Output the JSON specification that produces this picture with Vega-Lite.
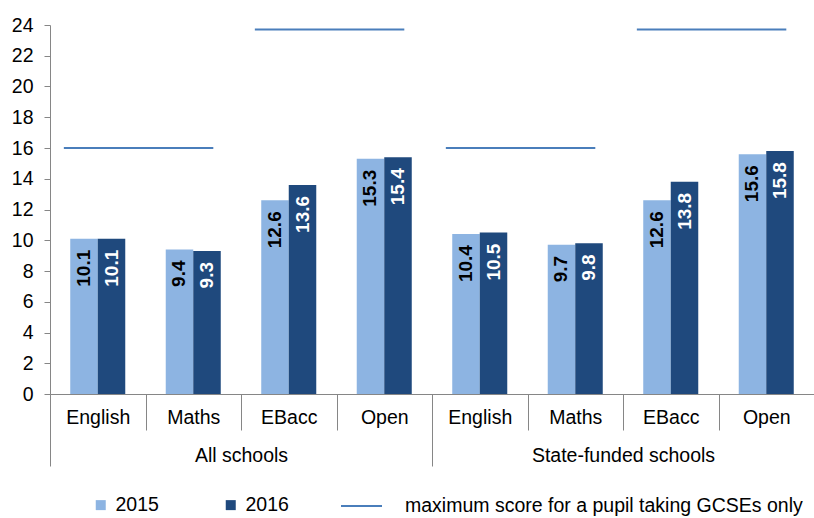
{
  "$schema": "https://vega.github.io/schema/vega-lite/v6.json",
  "autosize": {"type": "none"},
  "padding": {"left": 50, "top": 25, "right": 0, "bottom": 124},
  "width": 764,
  "height": 369,
  "config": {
    "font": "Liberation Sans",
    "view": {"stroke": null},
    "axis": {"labelFont": "Liberation Sans", "labelFontSize": 19.5, "labelColor": "#000000", "domainColor": "#868686", "tickColor": "#868686", "grid": false, "title": null, "labelOverlap": false, "labelLimit": 400},
    "axisY": {"tickSize": 6, "labelPadding": 11}
  },
  "datasets": {
    "scores": [
      {"cat": "All schools|English", "year": "2015", "score": 10.1},
      {"cat": "All schools|English", "year": "2016", "score": 10.1},
      {"cat": "All schools|Maths", "year": "2015", "score": 9.4},
      {"cat": "All schools|Maths", "year": "2016", "score": 9.3},
      {"cat": "All schools|EBacc", "year": "2015", "score": 12.6},
      {"cat": "All schools|EBacc", "year": "2016", "score": 13.6},
      {"cat": "All schools|Open", "year": "2015", "score": 15.3},
      {"cat": "All schools|Open", "year": "2016", "score": 15.4},
      {"cat": "State-funded schools|English", "year": "2015", "score": 10.4},
      {"cat": "State-funded schools|English", "year": "2016", "score": 10.5},
      {"cat": "State-funded schools|Maths", "year": "2015", "score": 9.7},
      {"cat": "State-funded schools|Maths", "year": "2016", "score": 9.8},
      {"cat": "State-funded schools|EBacc", "year": "2015", "score": 12.6},
      {"cat": "State-funded schools|EBacc", "year": "2016", "score": 13.8},
      {"cat": "State-funded schools|Open", "year": "2015", "score": 15.6},
      {"cat": "State-funded schools|Open", "year": "2016", "score": 15.8}
    ],
    "maxima": [
      {"start": "All schools|English", "end": "All schools|Maths", "max": 16},
      {"start": "All schools|EBacc", "end": "All schools|Open", "max": 23.7},
      {"start": "State-funded schools|English", "end": "State-funded schools|Maths", "max": 16},
      {"start": "State-funded schools|EBacc", "end": "State-funded schools|Open", "max": 23.7}
    ],
    "groups": [
      {"group": "All schools"},
      {"group": "State-funded schools"}
    ]
  },
  "layer": [
    {
      "layer": [
        {
          "data": {"name": "scores"},
          "mark": {"type": "bar"},
          "encoding": {
            "x": {
              "field": "cat", "type": "nominal",
              "scale": {"domain": ["All schools|English", "All schools|Maths", "All schools|EBacc", "All schools|Open", "State-funded schools|English", "State-funded schools|Maths", "State-funded schools|EBacc", "State-funded schools|Open"], "paddingInner": 0, "paddingOuter": 0},
              "axis": {"orient": "bottom", "title": null, "labelExpr": "split(datum.label, '|')[1]", "labelAngle": 0, "tickBand": "extent", "tickSize": 36, "labelPadding": -22}
            },
            "xOffset": {"field": "year", "type": "nominal", "scale": {"paddingInner": 0, "paddingOuter": 0.736}},
            "y": {
              "field": "score", "type": "quantitative",
              "scale": {"domain": [0, 24], "nice": false},
              "axis": {"title": null, "values": [0, 2, 4, 6, 8, 10, 12, 14, 16, 18, 20, 22, 24], "tickCount": 20, "labelOverlap": false}
            },
            "color": {
              "field": "year", "type": "nominal",
              "scale": {"domain": ["2015", "2016"], "range": ["#8DB4E2", "#1F497D"]},
              "legend": {"orient": "none", "legendX": 41, "legendY": 470, "direction": "horizontal", "title": null, "symbolType": "square", "symbolSize": 100, "labelFontSize": 19.5, "labelColor": "#000000", "labelOffset": 5, "columnPadding": 62, "padding": 0}
            }
          }
        },
        {
          "data": {"name": "scores"},
          "mark": {"type": "text", "angle": 270, "align": "right", "baseline": "middle", "dx": -11, "fontWeight": "bold", "fontSize": 19},
          "encoding": {
            "x": {"field": "cat", "type": "nominal"},
            "xOffset": {"field": "year", "type": "nominal"},
            "y": {"field": "score", "type": "quantitative"},
            "text": {"field": "score", "type": "quantitative", "format": ".1f"},
            "color": {"condition": {"test": "datum.year == '2016'", "value": "#ffffff"}, "value": "#000000"}
          }
        },
        {
          "data": {"name": "maxima"},
          "mark": {"type": "rule", "strokeWidth": 2},
          "encoding": {
            "x": {"field": "start", "type": "nominal", "bandPosition": 0.145},
            "x2": {"field": "end", "bandPosition": 0.71},
            "y": {"field": "max", "type": "quantitative"},
            "stroke": {
              "datum": "maximum score for a pupil taking GCSEs only",
              "scale": {"range": ["#4A7EBB"]},
              "legend": {"orient": "none", "legendX": 290, "legendY": 459.5, "direction": "horizontal", "title": null, "symbolType": "stroke", "symbolSize": 1681, "symbolStrokeWidth": 2, "labelFontSize": 19.5, "labelColor": "#000000", "labelOffset": 22, "labelLimit": 600, "padding": 0}
            }
          }
        }
      ]
    },
    {
      "data": {"name": "groups"},
      "mark": {"type": "rule", "opacity": 0},
      "encoding": {
        "x": {
          "field": "group", "type": "nominal",
          "scale": {"domain": ["All schools", "State-funded schools"], "paddingInner": 0, "paddingOuter": 0},
          "axis": {"orient": "bottom", "title": null, "domain": false, "labelAngle": 0, "tickBand": "extent", "tickSize": 72, "labelPadding": -20}
        }
      }
    }
  ],
  "resolve": {"scale": {"x": "independent"}, "axis": {"x": "independent"}}
}
